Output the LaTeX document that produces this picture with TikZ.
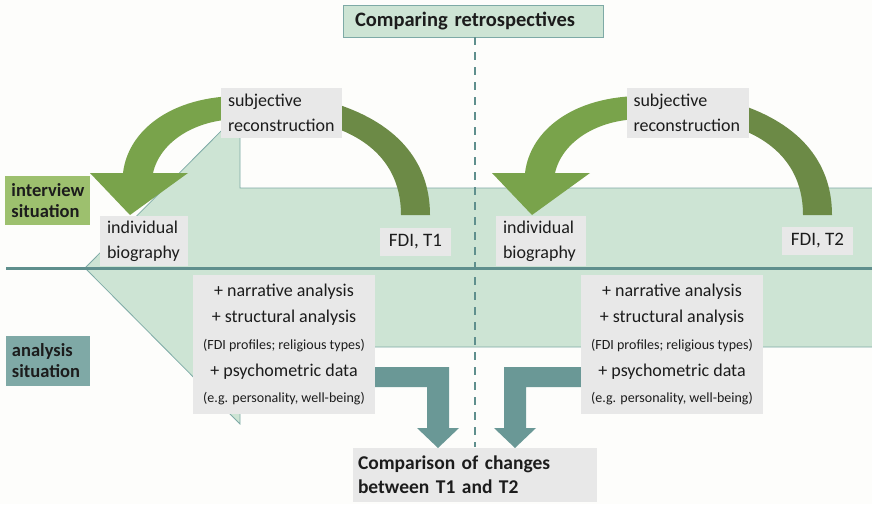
\documentclass[tikz,border=0pt]{standalone}
\usepackage{fontspec}
\setmainfont{Carlito}
\definecolor{paper}{HTML}{FDFDFB}
\definecolor{mint}{HTML}{CDE4D4}
\definecolor{mintline}{HTML}{7EAAA6}
\definecolor{rule}{HTML}{5F8F8D}
\definecolor{teal}{HTML}{6A9896}
\definecolor{leaf}{HTML}{79A34B}
\definecolor{moss}{HTML}{6C8A46}
\definecolor{boxgrey}{HTML}{E8E8E8}
\definecolor{interview}{HTML}{9DC06E}
\definecolor{analysis}{HTML}{7FA9A6}
\definecolor{ink}{HTML}{1C1C1C}
\tikzset{
  base/.style={inner sep=0pt, text=ink, font=\fontsize{18}{25}\selectfont},
  greybox/.style={base, fill=boxgrey},
  headbox/.style={base, font=\bfseries\fontsize{18.5}{21}\selectfont, align=left},
  bandshape/.style={fill=mint, draw=mintline, line width=0.8pt},
  bendarrow/.style={fill=teal, draw=none},
  methods/.style={greybox, minimum width=182pt, minimum height=139pt, align=center,
    font=\fontsize{18}{26.6}\selectfont},
}
\newcommand{\noteline}[1]{{\fontsize{14}{26.6}\selectfont #1}}
\begin{document}
\begin{tikzpicture}[x=1pt,y=-1pt]
\useasboundingbox (0,0) rectangle (872,504);
\fill[paper] (0,0) rectangle (872,504);

% broad left-pointing band behind both interviews
\draw[bandshape] (872,188) -- (240,188) -- (240,112) -- (85,268) -- (240,424)
  -- (240,347) -- (872,347);

% separator between interview and analysis
\coordinate (ruleW) at (6,268);
\coordinate (ruleE) at (872,268);
\draw[rule, line width=3pt] (ruleW) -- (ruleE);

% title and the dashed divider under it
\node[base, fill=mint, draw=mintline, line width=0.8pt, font=\bfseries\fontsize{20.5}{24}\selectfont,
  minimum width=260pt, minimum height=32pt, text width=236pt, align=left] (title) at (473,21)
  {Comparing retrospectives};
\coordinate (divEnd) at (475,447);
\draw[rule, line width=2.2pt, dash pattern=on 8pt off 7pt] (title.south -| divEnd) -- (divEnd);

% reconstruction arrows, time point 1 and time point 2
\foreach \dx in {0,402} {
  \begin{scope}[xshift=\dx]
    \fill[leaf] (240,96) .. controls (172,96) and (128,130) .. (123,173)
      -- (90,173) -- (130,215) -- (188,173) -- (153,173)
      .. controls (160,142) and (195,119) .. (240,119) -- cycle;
    \fill[moss] (330,102) .. controls (395,121) and (430,160) .. (430,215)
      -- (401,215) .. controls (401,171) and (376,141) .. (330,126) -- cycle;
  \end{scope}
}

% teal arrows leading to the comparison
\fill[bendarrow] (370,367) -- (449,367) -- (449,428) -- (459,428) -- (438,448)
  -- (417,428) -- (427,428) -- (427,387) -- (370,387) -- cycle;
\fill[bendarrow] (590,367) -- (504,367) -- (504,428) -- (494,428) -- (515,448)
  -- (536,428) -- (526,428) -- (526,387) -- (590,387) -- cycle;

% row labels
\node[headbox, fill=interview, minimum width=85pt, minimum height=49pt, text width=72pt]
  (intv) at (47.5,200.5) {interview\\situation};
\node[headbox, fill=analysis, minimum width=84pt, minimum height=50pt, text width=72pt]
  (anls) at (48,361) {analysis\\situation};

% time point 1
\node[greybox, minimum width=121pt, minimum height=50pt, text width=107pt, align=left]
  (subjA) at (281.5,113) {subjective\\reconstruction};
\node[greybox, minimum width=88pt, minimum height=50pt, text width=74pt, align=left]
  (bioA) at (144,241) {individual\\biography};
\node[greybox, minimum width=71pt, minimum height=28pt, font=\fontsize{19}{22}\selectfont]
  (fdiA) at (415.5,242) {FDI, T1};
\node[methods] (methA) at (284,344.5)
  {+ narrative analysis\\+ structural analysis\\\noteline{(FDI profiles; religious types)}\\+ psychometric data\\\noteline{(e.g. personality, well-being)}};

% time point 2
\node[greybox, minimum width=122pt, minimum height=50pt, text width=109pt, align=left]
  (subjB) at (688,113) {subjective\\reconstruction};
\node[greybox, minimum width=90pt, minimum height=50pt, text width=76pt, align=left]
  (bioB) at (541,241) {individual\\biography};
\node[greybox, minimum width=71pt, minimum height=28pt, font=\fontsize{19}{22}\selectfont]
  (fdiB) at (817.5,241) {FDI, T2};
\node[methods] (methB) at (672,344.5)
  {+ narrative analysis\\+ structural analysis\\\noteline{(FDI profiles; religious types)}\\+ psychometric data\\\noteline{(e.g. personality, well-being)}};

% comparison result
\node[greybox, font=\bfseries\fontsize{19.5}{24}\selectfont, minimum width=244pt, minimum height=54pt,
  text width=234pt, align=left] (cmp) at (475,475) {Comparison of changes\\between T1 and T2};
\end{tikzpicture}
\end{document}
